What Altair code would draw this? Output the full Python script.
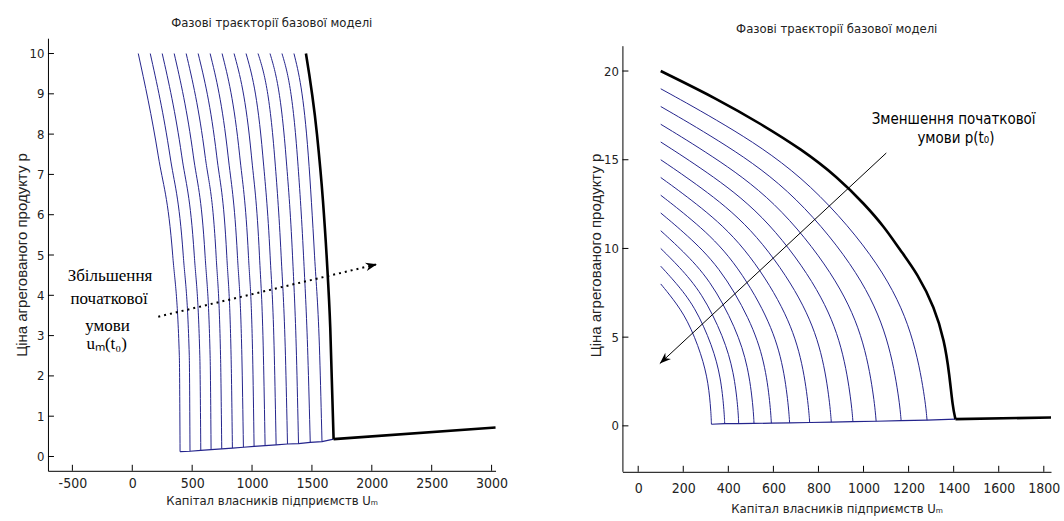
import altair as alt
import pandas as pd

FONT = "Liberation Sans Narrow, Arial Narrow, DejaVu Sans Condensed, Liberation Sans, sans-serif"
FONT_V = "Liberation Sans, Arial, sans-serif"
SERIF = "Liberation Serif, Times New Roman, serif"
BLUE = "#24248c"
TXT = "#222222"

TITLE = "Фазові траєкторії базової моделі"
X_TITLE = "Капітал власників підприємств Uₘ"
Y_TITLE = "Ціна агрегованого продукту p"

# ---------------- left panel ----------------
L_XTICKS = [-500, 0, 500, 1000, 1500, 2000, 2500, 3000]
L_YTICKS = [0, 1, 2, 3, 4, 5, 6, 7, 8, 9, 10]
L_XDOM = [-704, 3033]
L_YDOM = [-0.355, 10.38]

L_P_LEVELS = [10, 7.46, 4.98, 2.5]
L_X_P10 = [50, 150, 250, 350, 450, 550, 650, 750, 850, 950, 1050, 1150, 1250, 1350]
L_X_P746 = [217, 315, 413, 510, 608, 705, 800, 897, 995, 1090, 1188, 1283, 1378, 1470]
L_X_P498 = [338, 426, 518, 608, 700, 789, 878, 970, 1062, 1151, 1243, 1338, 1430, 1522]
L_X_P25 = [393, 476, 564, 650, 737, 825, 915, 1005, 1095, 1186, 1279, 1371, 1466, 1565]
L_BOT_X = [399, 482, 572, 658, 747, 836, 928, 1017, 1109, 1201, 1296, 1388, 1486, 1584]
L_BOT_P = [0.12, 0.13, 0.15, 0.17, 0.19, 0.21, 0.23, 0.25, 0.27, 0.29, 0.31, 0.32, 0.35, 0.37]

L_BLACK_X = [1450, 1542, 1592, 1625, 1653, 1681]
L_BLACK_P = [10, 8.0, 6.35, 4.86, 3.2, 0.43]
L_TAIL_X = [1681, 3033]
L_TAIL_P = [0.43, 0.72]

L_ARROW_X = [217, 2043]
L_ARROW_P = [3.47, 4.77]
L_NOTE = ["Збільшення", "початкової", "умови", "uₘ(t₀)"]
L_NOTE_X = [-186, -194, -207, -214]
L_NOTE_P = [4.48, 3.9, 3.24, 2.8]

# ---------------- right panel ----------------
R_XTICKS = [0, 200, 400, 600, 800, 1000, 1200, 1400, 1600, 1800]
R_YTICKS = [0, 5, 10, 15, 20]
R_XDOM = [-70, 1832]
R_YDOM = [-2.59, 21.85]
R_YTOP = 21.4

R_X0 = [100, 100, 100, 100, 100, 100, 100, 100, 100, 100, 100, 100]
R_P0 = [19, 18, 17, 16, 15, 14, 13, 12, 11, 10, 9, 8]
R_XA = [372, 345, 320, 296, 274, 252, 232, 213, 195, 180, 165, 152]
R_PA = [17.1, 16.2, 15.3, 14.4, 13.5, 12.6, 11.7, 10.8, 9.9, 9.0, 8.1, 7.2]
R_XB = [726, 666, 607, 552, 501, 450, 403, 360, 319, 283, 251, 219]
R_PB = [14.25, 13.5, 12.75, 12.0, 11.25, 10.5, 9.75, 9.0, 8.25, 7.5, 6.75, 6.0]
R_XC = [1057, 964, 874, 791, 713, 635, 563, 498, 435, 380, 330, 282]
R_PC = [9.5, 9.0, 8.5, 8.0, 7.5, 7.0, 6.5, 6.0, 5.5, 5.0, 4.5, 4.0]
R_XD = [1211, 1103, 999, 902, 812, 721, 638, 562, 489, 425, 367, 312]
R_PD = [5.7, 5.4, 5.1, 4.8, 4.5, 4.2, 3.9, 3.6, 3.3, 3.0, 2.7, 2.4]
R_XE = [1270, 1156, 1046, 944, 849, 754, 666, 586, 510, 443, 381, 323]
R_PE = [1.9, 1.8, 1.7, 1.6, 1.5, 1.4, 1.3, 1.2, 1.1, 1.0, 0.9, 0.8]
R_BOT_X = [1282, 1167, 1056, 953, 857, 761, 672, 591, 514, 446, 384, 325]
R_BOT_P = [0.32, 0.29, 0.26, 0.24, 0.21, 0.19, 0.17, 0.15, 0.14, 0.13, 0.12, 0.09]

R_BLACK_X = [100, 355, 547, 724, 887, 1004, 1093, 1160, 1241, 1315, 1359, 1381, 1396, 1408]
R_BLACK_P = [20, 18.4, 17.0, 15.6, 14.0, 12.5, 11.2, 9.95, 8.55, 6.67, 4.79, 2.91, 1.03, 0.38]
R_TAIL_X = [1408, 1832]
R_TAIL_P = [0.38, 0.47]

R_ARROW_X = [1101, 96]
R_ARROW_P = [15.38, 3.51]
R_NOTE = ["Зменшення початкової", "умови p(t₀)"]
R_NOTE_X = [1400, 1410]
R_NOTE_P = [17.28, 16.24]

L_W, L_H = 448, 433
R_W, R_H = 429, 434

ARROW_PATH = "M0,0 L-0.55,1.5 L0,1.05 L0.55,1.5 Z"


def rows(curve_sets):
    out = []
    for cid, xs, ps in curve_sets:
        for k, (x, p) in enumerate(zip(xs, ps)):
            out.append({"c": cid, "x": x, "p": p, "o": k})
    return pd.DataFrame(out)


def make_axes(xticks, yticks, ydomain_line, xlab_pad, xtitle_pad):
    ax = alt.Axis(values=xticks, ticks=False, tickSize=0, grid=False,
                  domainColor="black", domainWidth=1,
                  labelFont=FONT, labelFontSize=14, labelColor=TXT,
                  labelPadding=xlab_pad, labelFlush=False, labelOverlap=False,
                  labelExpr="'' + datum.value",
                  title=X_TITLE, titleFont=FONT, titleFontSize=13,
                  titleFontWeight="normal", titleColor=TXT, titlePadding=xtitle_pad)
    ay = alt.Axis(values=yticks, ticks=False, tickSize=0, grid=False,
                  domain=ydomain_line, domainColor="black", domainWidth=1,
                  labelFont=FONT, labelFontSize=13, labelColor=TXT,
                  labelPadding=4, labelFlush=False, labelOverlap=False,
                  labelExpr="'' + datum.value",
                  title=Y_TITLE, titleFont=FONT_V, titleFontSize=15,
                  titleFontWeight="normal", titleColor=TXT, titlePadding=0)
    return ax, ay


def panel(curves_df, bottom_df, black_df, tail_df, arrow_df, head_df, note_df,
          xticks, yticks, xdom, ydom, W, H, dotted, note_font, note_size,
          head_angle, title_offset, ydomain_line, interp, xlab_pad, xtitle_pad,
          extra_layers=()):
    ax, ay = make_axes(xticks, yticks, ydomain_line, xlab_pad, xtitle_pad)
    xs = alt.Scale(domain=xdom, nice=False, zero=False)
    ys = alt.Scale(domain=ydom, nice=False, zero=False)
    X = alt.X("x:Q", scale=xs, axis=ax)
    Y = alt.Y("p:Q", scale=ys, axis=ay)

    blue = alt.Chart(curves_df).mark_line(interpolate=interp, color=BLUE, strokeWidth=1).encode(
        x=X, y=Y, detail="c:N", order="o:Q")
    bottom = alt.Chart(bottom_df).mark_line(color=BLUE, strokeWidth=1.2).encode(x=X, y=Y, order="o:Q")
    black = alt.Chart(black_df).mark_line(interpolate=interp, color="black", strokeWidth=2.6).encode(
        x=X, y=Y, order="o:Q")
    tail = alt.Chart(tail_df).mark_line(color="black", strokeWidth=2.6).encode(x=X, y=Y, order="o:Q")
    if dotted:
        arrow = alt.Chart(arrow_df).mark_line(color="black", strokeWidth=2, strokeDash=[2, 4]).encode(
            x=X, y=Y, order="o:Q")
    else:
        arrow = alt.Chart(arrow_df).mark_line(color="black", strokeWidth=1).encode(x=X, y=Y, order="o:Q")
    head = alt.Chart(head_df).mark_point(shape=ARROW_PATH, filled=True, color="black", size=230,
                                          angle=head_angle, opacity=1).encode(x=X, y=Y)
    note = alt.Chart(note_df).mark_text(font=note_font, fontSize=note_size, color="black",
                                        align="center", baseline="middle").encode(x=X, y=Y, text="t:N")
    xt = alt.Chart(pd.DataFrame({"x": xticks})).mark_rule(color="black", strokeWidth=1).encode(
        x=X, y=alt.value(H), y2=alt.value(H - 6))
    yt = alt.Chart(pd.DataFrame({"p": yticks})).mark_rule(color="black", strokeWidth=1).encode(
        y=Y, x=alt.value(0), x2=alt.value(6))
    layers = [blue, bottom, black, tail, arrow, head, note, xt, yt]
    for mk in extra_layers:
        layers.append(mk(X, Y))
    return alt.layer(*layers).properties(
        width=W, height=H,
        title=alt.TitleParams(TITLE, font=FONT, fontSize=13, fontWeight="normal", color=TXT,
                              offset=title_offset, anchor="middle"))


# ---- left data frames ----
l_sets = []
for i in range(len(L_X_P10)):
    l_sets.append((i, [L_X_P10[i], L_X_P746[i], L_X_P498[i], L_X_P25[i], L_BOT_X[i]],
                   [L_P_LEVELS[0], L_P_LEVELS[1], L_P_LEVELS[2], L_P_LEVELS[3], L_BOT_P[i]]))
l_curves = rows(l_sets)
l_bottom = rows([(0, L_BOT_X + [L_BLACK_X[-1]], L_BOT_P + [L_BLACK_P[-1]])])
l_black = rows([(0, L_BLACK_X, L_BLACK_P)])
l_tail = rows([(0, L_TAIL_X, L_TAIL_P)])
l_arrow = rows([(0, L_ARROW_X, L_ARROW_P)])
l_head = pd.DataFrame({"x": [L_ARROW_X[-1]], "p": [L_ARROW_P[-1]]})
l_note = pd.DataFrame({"x": L_NOTE_X, "p": L_NOTE_P, "t": L_NOTE})

# ---- right data frames ----
r_sets = []
for i in range(len(R_P0)):
    r_sets.append((i, [R_X0[i], R_XA[i], R_XB[i], R_XC[i], R_XD[i], R_XE[i], R_BOT_X[i]],
                   [R_P0[i], R_PA[i], R_PB[i], R_PC[i], R_PD[i], R_PE[i], R_BOT_P[i]]))
r_curves = rows(r_sets)
r_bottom = rows([(0, R_BOT_X[::-1] + [R_BLACK_X[-1]], R_BOT_P[::-1] + [R_BLACK_P[-1]])])
r_black = rows([(0, R_BLACK_X, R_BLACK_P)])
r_tail = rows([(0, R_TAIL_X, R_TAIL_P)])
r_arrow = rows([(0, R_ARROW_X[::-1], R_ARROW_P[::-1])])
r_head = pd.DataFrame({"x": [R_ARROW_X[-1]], "p": [R_ARROW_P[-1]]})
r_note = pd.DataFrame({"x": R_NOTE_X, "p": R_NOTE_P, "t": R_NOTE})


def r_domain_line(X, Y):
    return alt.Chart(pd.DataFrame({"p": [R_YTOP], "p2": [R_YDOM[0]]})).mark_rule(
        color="black", strokeWidth=1).encode(x=alt.value(0.5), y=Y, y2="p2:Q")


left = panel(l_curves, l_bottom, l_black, l_tail, l_arrow, l_head, l_note,
             L_XTICKS, L_YTICKS, L_XDOM, L_YDOM, L_W, L_H, True, SERIF, 17,
             76.6, 8, True, "monotone", 6, 4)
right = panel(r_curves, r_bottom, r_black, r_tail, r_arrow, r_head, r_note,
              R_XTICKS, R_YTICKS, R_XDOM, R_YDOM, R_W, R_H, False, FONT, 15,
              227, 2, False, "basis", 10, 7, extra_layers=(r_domain_line,))

chart = alt.hconcat(left, right, spacing=80).configure_view(stroke=None).properties(
    padding={"left": 14, "top": 17, "right": 4, "bottom": 4}, background="white")

chart.save("out.html", embed_options={"renderer": "svg", "actions": False})
